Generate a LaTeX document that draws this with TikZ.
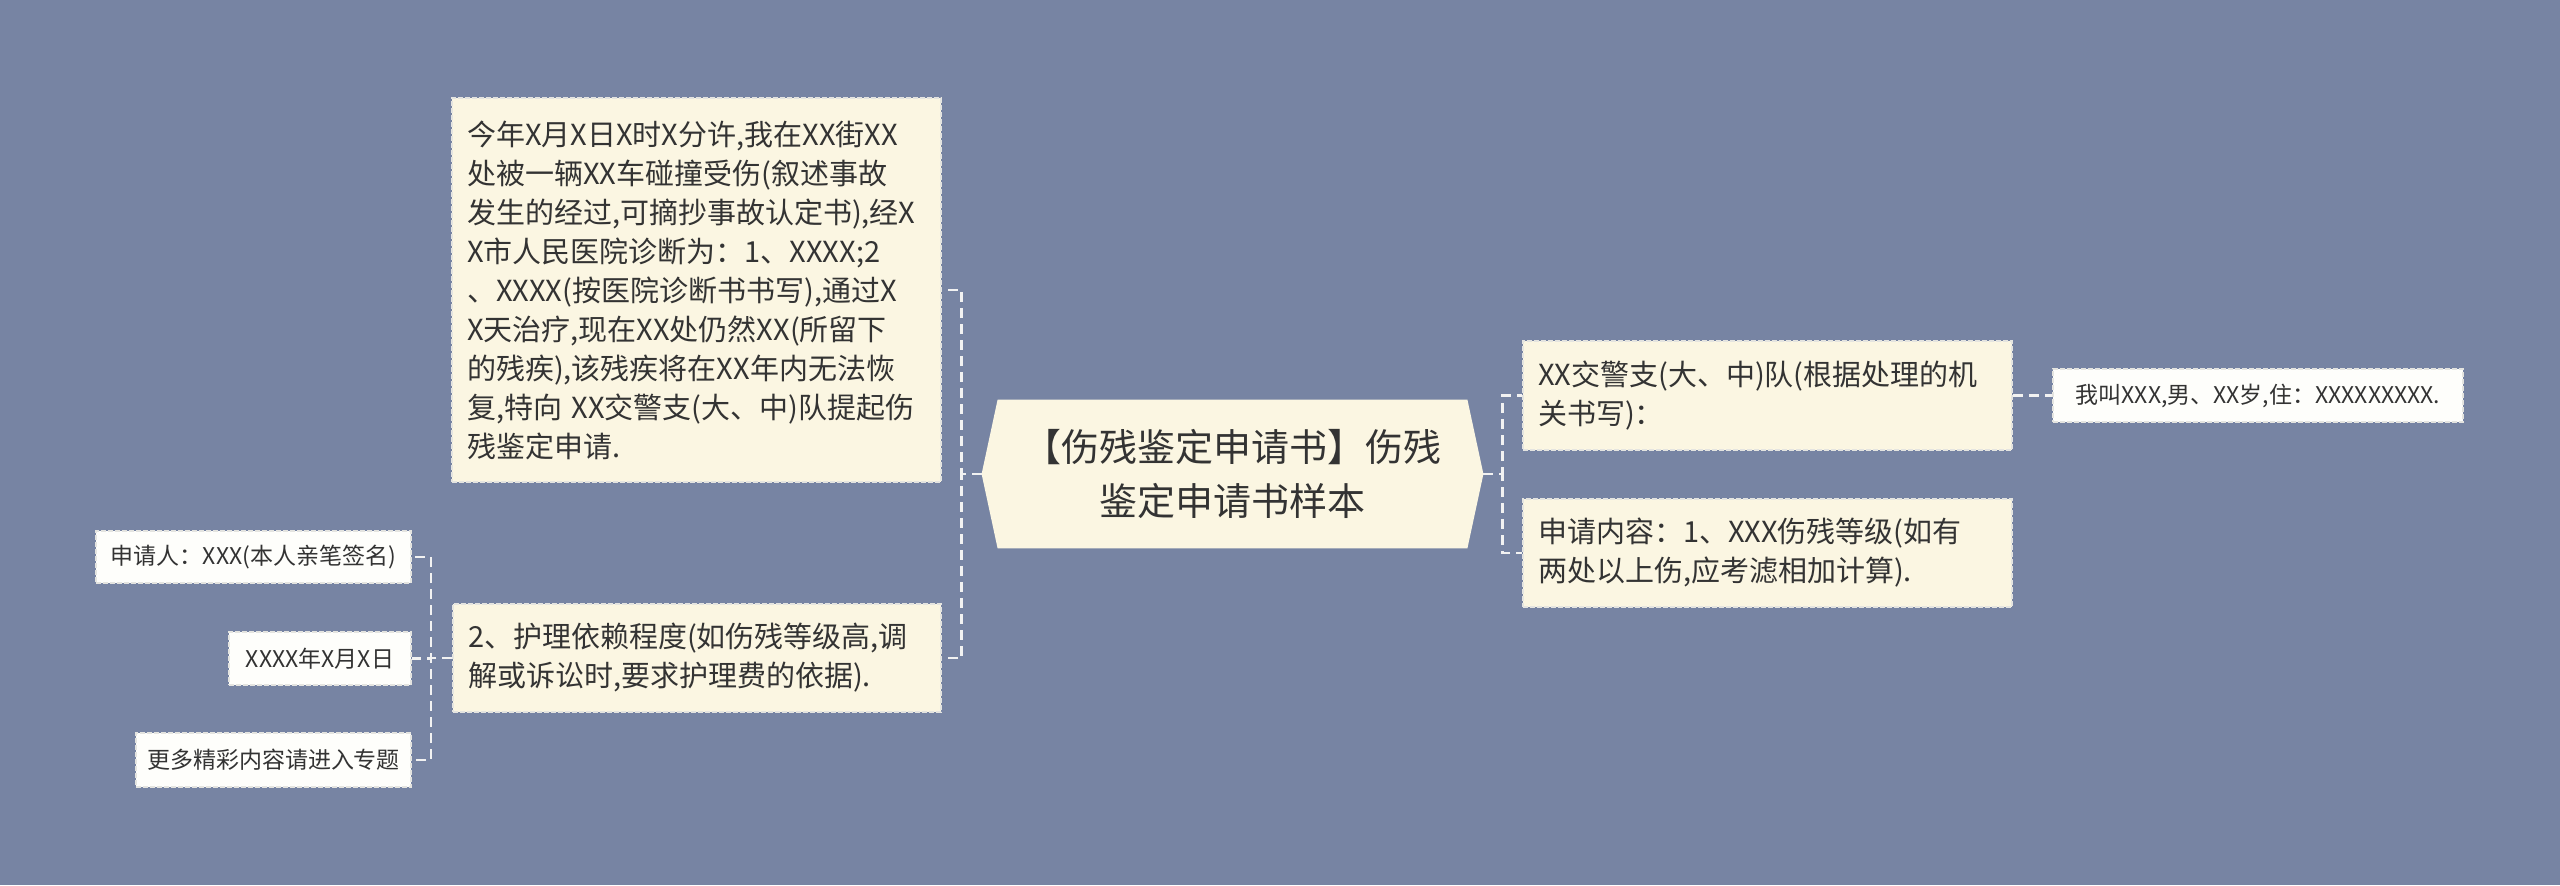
\documentclass[tikz,border=0pt]{standalone}
\usepackage{fontspec}
\setmainfont{Noto Sans CJK SC}
\definecolor{bgblue}{HTML}{7784A3}
\definecolor{cream}{HTML}{FBF6E2}
\definecolor{tagwhite}{HTML}{FEFEFB}
\definecolor{edgegray}{HTML}{E4E4E0}
\definecolor{linkwhite}{HTML}{F2F2F2}
\definecolor{inkgray}{HTML}{333333}
\pgfdeclarelayer{back}
\pgfsetlayers{back,main}
\tikzset{
  card/.style={draw=edgegray, line width=0.8pt, dash pattern=on 2.5pt off 1pt,
    fill=cream, text=inkgray, align=left, inner sep=0pt,
    font=\fontsize{14.5}{19.5}\selectfont},
  tag/.style={card, fill=tagwhite, align=center, font=\fontsize{11.5}{14}\selectfont},
  link/.style={draw=linkwhite, line width=1.2pt, dash pattern=on 5pt off 3pt}
}
\begin{document}
\begin{tikzpicture}[x=0.5pt,y=-0.5pt]
\node[text=inkgray, align=center, inner sep=0pt, minimum width=250.5pt, minimum height=74pt,
  font=\fontsize{19}{27}\selectfont] (root) at (1232.5,474) {【伤残鉴定申请书】伤残\\鉴定申请书样本};
\begin{pgfonlayer}{back}
\fill[bgblue] (0,0) rectangle (2560,885);
\fill[cream] ([xshift=8pt]root.north west) -- ([xshift=-8pt]root.north east) -- (root.east)
  -- ([xshift=-8pt]root.south east) -- ([xshift=8pt]root.south west) -- (root.west) -- cycle;
\end{pgfonlayer}
\useasboundingbox (0,0) rectangle (2560,885);
\node[card, text width=229.5pt, minimum width=244.5pt, minimum height=192pt] (story) at (696.5,290)
  {今年X月X日X时X分许,我在XX街XX\\处被一辆XX车碰撞受伤(叙述事故\\发生的经过,可摘抄事故认定书),经X\\X市人民医院诊断为：1、XXXX;2\\、XXXX(按医院诊断书书写),通过X\\X天治疗,现在XX处仍然XX(所留下\\的残疾),该残疾将在XX年内无法恢\\复,特向 XX交警支(大、中)队提起伤\\残鉴定申请.};
\node[card, text width=229pt, minimum width=244pt, minimum height=54pt] (care) at (697,658)
  {2、护理依赖程度(如伤残等级高,调\\解或诉讼时,要求护理费的依据).};
\node[card, text width=229.5pt, minimum width=244.5pt, minimum height=54.5pt] (police) at (1767.5,395.5)
  {XX交警支(大、中)队(根据处理的机\\关书写)：};
\node[card, text width=229.5pt, minimum width=244.5pt, minimum height=54pt] (claim) at (1767.5,553)
  {申请内容：1、XXX伤残等级(如有\\两处以上伤,应考滤相加计算).};
\node[tag, minimum width=205pt, minimum height=26.5pt] (self) at (2258,395.5)
  {我叫XXX,男、XX岁,住：XXXXXXXXX.};
\node[tag, minimum width=157.5pt, minimum height=26pt] (sign) at (253.5,557)
  {申请人：XXX(本人亲笔签名)};
\node[tag, minimum width=91pt, minimum height=26.5pt] (date) at (320,658.5)
  {XXXX年X月X日};
\node[tag, minimum width=137.5pt, minimum height=27pt] (more) at (273.5,760)
  {更多精彩内容请进入专题};
\draw[link] (root.west) -- ++(-10pt,0) |- (story.east);
\draw[link] (root.west) -- ++(-10pt,0) |- (care.east);
\draw[link] (root.east) -- ++(9.5pt,0) |- (police.west);
\draw[link] (root.east) -- ++(9.5pt,0) |- (claim.west);
\draw[link] (police.east) -- (self.west);
\draw[link] (care.west) -- ++(-10.5pt,0) |- (sign.east);
\draw[link] (care.west) -- ++(-10.5pt,0) |- (date.east);
\draw[link] (care.west) -- ++(-10.5pt,0) |- (more.east);
\end{tikzpicture}
\end{document}
